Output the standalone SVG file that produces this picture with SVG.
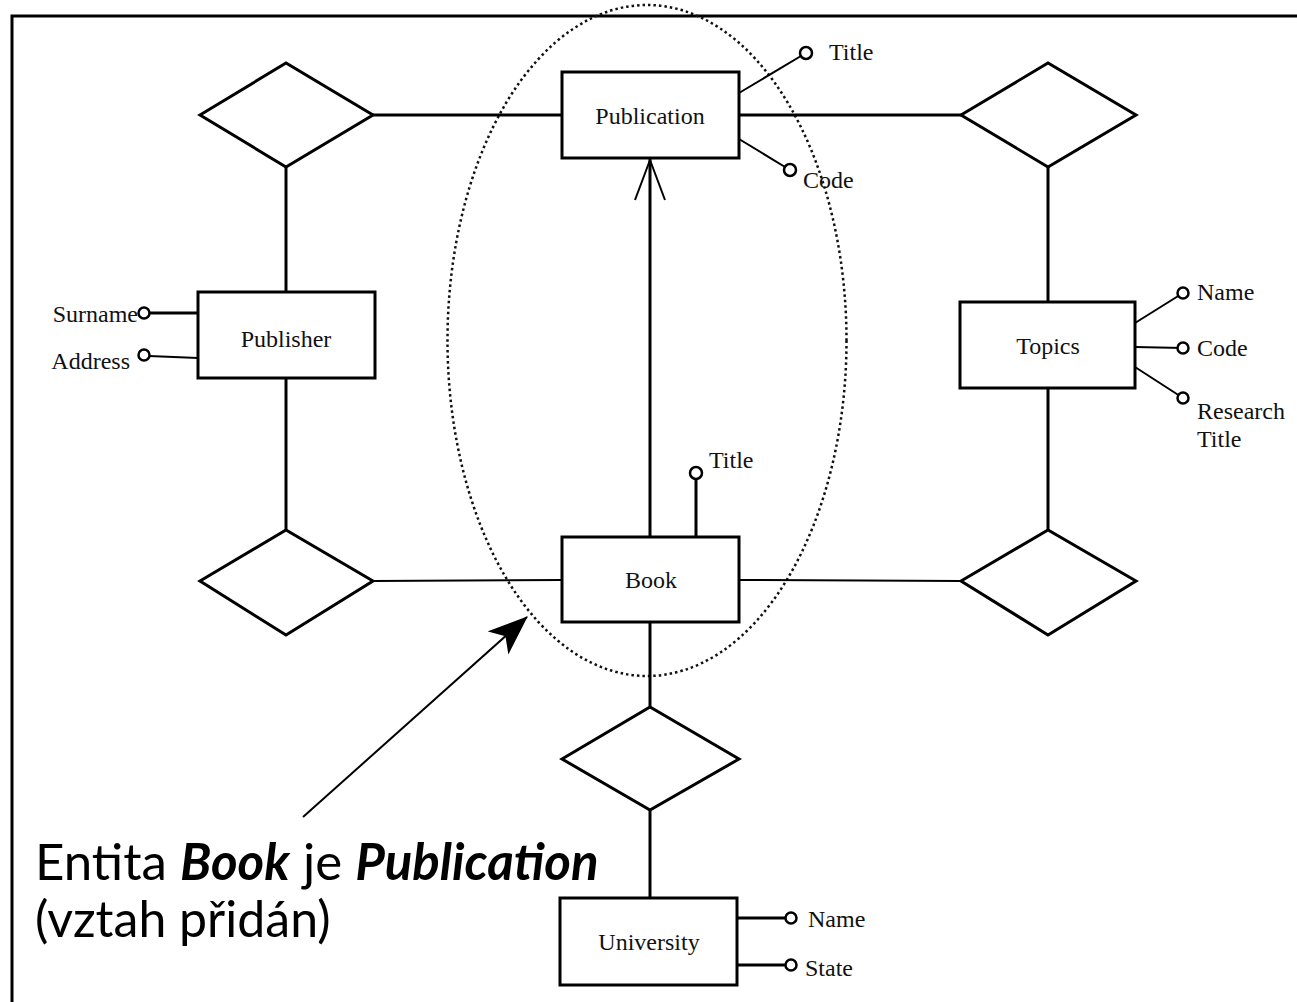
<svg xmlns="http://www.w3.org/2000/svg" width="1297" height="1002" viewBox="0 0 1297 1002">
  <style>
    .frame { fill: none; stroke: #000; stroke-width: 3; }
    .ent { fill: #fff; stroke: #000; stroke-width: 3; }
    .rel { fill: #fff; stroke: #000; stroke-width: 3; stroke-linejoin: miter; }
    .ln { fill: none; stroke: #000; stroke-width: 3; }
    .thin { fill: none; stroke: #000; stroke-width: 2; }
    .att { fill: #fff; stroke: #000; stroke-width: 2.5; }
    .lbl { font-family: "Liberation Serif", "DejaVu Serif", serif; font-size: 24px; fill: #111; }
    .mid { text-anchor: middle; }
    .note { font-family: Lato, "Open Sans", "Liberation Sans", sans-serif; font-size: 51px; fill: #000; }
    .hl { font-weight: bold; font-style: italic; }
    .ring { fill: none; stroke: #111; stroke-width: 2.5; stroke-dasharray: 2.5 3; }
  </style>
  <defs>
    <marker id="solidHead" markerUnits="userSpaceOnUse" markerWidth="40" markerHeight="32" viewBox="0 0 36 28" refX="35" refY="14" orient="auto">
      <path d="M0,0 L36,14 L0,28 L9,14 Z" fill="#000"/>
    </marker>
  </defs>

  <rect width="1297" height="1002" fill="#fff"/>

  <!-- page frame: top and left edges only -->
  <path class="frame" d="M12,1002 L12,16 L1297,16"/>

  <!-- dotted grouping around Publication and Book -->
  <ellipse class="ring" cx="647" cy="340.5" rx="199.5" ry="335.5"/>

  <g id="connectors">
    <line class="ln" x1="373" y1="115" x2="562" y2="115"/>
    <line class="ln" x1="739" y1="115" x2="961" y2="115"/>
    <line class="ln" x1="286" y1="167" x2="286" y2="292"/>
    <line class="ln" x1="286" y1="378" x2="286" y2="530"/>
    <line class="ln" x1="1048" y1="167" x2="1048" y2="302"/>
    <line class="ln" x1="1048" y1="388" x2="1048" y2="530"/>
    <line class="thin" x1="373" y1="581" x2="562" y2="580"/>
    <line class="thin" x1="739" y1="580" x2="961" y2="581"/>
    <line class="ln" x1="650" y1="622" x2="650" y2="707"/>
    <line class="ln" x1="650" y1="810" x2="650" y2="898"/>
    <!-- ISA: Book to Publication -->
    <line class="ln" x1="650" y1="536" x2="650" y2="159"/>
    <polyline class="thin" points="635,200 650,160 665,200"/>
    <!-- note pointer -->
    <line class="thin" x1="303" y1="817" x2="527" y2="617" marker-end="url(#solidHead)"/>
  </g>

  <g id="rel-publisher">
    <polygon class="rel" points="200,115 286,63 373,115 286,167"/>
  </g>
  <g id="rel-topics">
    <polygon class="rel" points="961,115 1048,63 1136,115 1048,167"/>
  </g>
  <g id="rel-book-publisher">
    <polygon class="rel" points="200,581 286,530 373,581 286,635"/>
  </g>
  <g id="rel-book-topics">
    <polygon class="rel" points="961,581 1048,530 1136,581 1048,635"/>
  </g>
  <g id="rel-book-university">
    <polygon class="rel" points="562,759 650,707 739,759 650,810"/>
  </g>

  <g id="publication">
    <line class="thin" x1="739" y1="93" x2="806" y2="53"/>
    <line class="thin" x1="739" y1="139" x2="790" y2="170"/>
    <circle class="att" cx="806" cy="53" r="6"/>
    <circle class="att" cx="790" cy="170" r="6"/>
    <rect class="ent" x="562" y="72" width="177" height="86"/>
    <text class="lbl mid" x="650" y="124">Publication</text>
    <text class="lbl" x="829" y="60">Title</text>
    <text class="lbl" x="803" y="188">Code</text>
  </g>

  <g id="publisher">
    <line class="ln" x1="149" y1="313" x2="198" y2="313"/>
    <line class="thin" x1="149" y1="356" x2="198" y2="358"/>
    <circle class="att" cx="144" cy="313" r="5.5"/>
    <circle class="att" cx="144" cy="355" r="5.5"/>
    <rect class="ent" x="198" y="292" width="177" height="86"/>
    <text class="lbl mid" x="286" y="347">Publisher</text>
    <text class="lbl" x="138" y="322" text-anchor="end">Surname</text>
    <text class="lbl" x="130" y="369" text-anchor="end">Address</text>
  </g>

  <g id="topics">
    <line class="thin" x1="1135" y1="323" x2="1183" y2="293"/>
    <line class="thin" x1="1135" y1="347" x2="1183" y2="348"/>
    <line class="thin" x1="1135" y1="367" x2="1183" y2="398"/>
    <circle class="att" cx="1183" cy="293" r="5.5"/>
    <circle class="att" cx="1183" cy="348" r="5.5"/>
    <circle class="att" cx="1183" cy="398" r="5.5"/>
    <rect class="ent" x="960" y="302" width="175" height="86"/>
    <text class="lbl mid" x="1048" y="354">Topics</text>
    <text class="lbl" x="1197" y="300">Name</text>
    <text class="lbl" x="1197" y="356">Code</text>
    <text class="lbl" x="1197" y="419">Research</text>
    <text class="lbl" x="1197" y="447">Title</text>
  </g>

  <g id="book">
    <line class="ln" x1="696" y1="536" x2="696" y2="474"/>
    <circle class="att" cx="696" cy="473" r="6"/>
    <rect class="ent" x="562" y="537" width="177" height="85"/>
    <text class="lbl mid" x="651" y="588">Book</text>
    <text class="lbl" x="709" y="468">Title</text>
  </g>

  <g id="university">
    <line class="ln" x1="737" y1="918" x2="791" y2="918"/>
    <line class="ln" x1="737" y1="965" x2="791" y2="965"/>
    <circle class="att" cx="791" cy="918" r="5.5"/>
    <circle class="att" cx="791" cy="965" r="5.5"/>
    <rect class="ent" x="560" y="898" width="177" height="87"/>
    <text class="lbl mid" x="649" y="950">University</text>
    <text class="lbl" x="808" y="927">Name</text>
    <text class="lbl" x="805" y="976">State</text>
  </g>

  <g id="note">
    <text class="note" x="35" y="880">Entita <tspan class="hl">Book</tspan> je <tspan class="hl">Publication</tspan></text>
    <text class="note" x="35" y="937" style="font-size:50px">(vztah přidán)</text>
  </g>
</svg>
